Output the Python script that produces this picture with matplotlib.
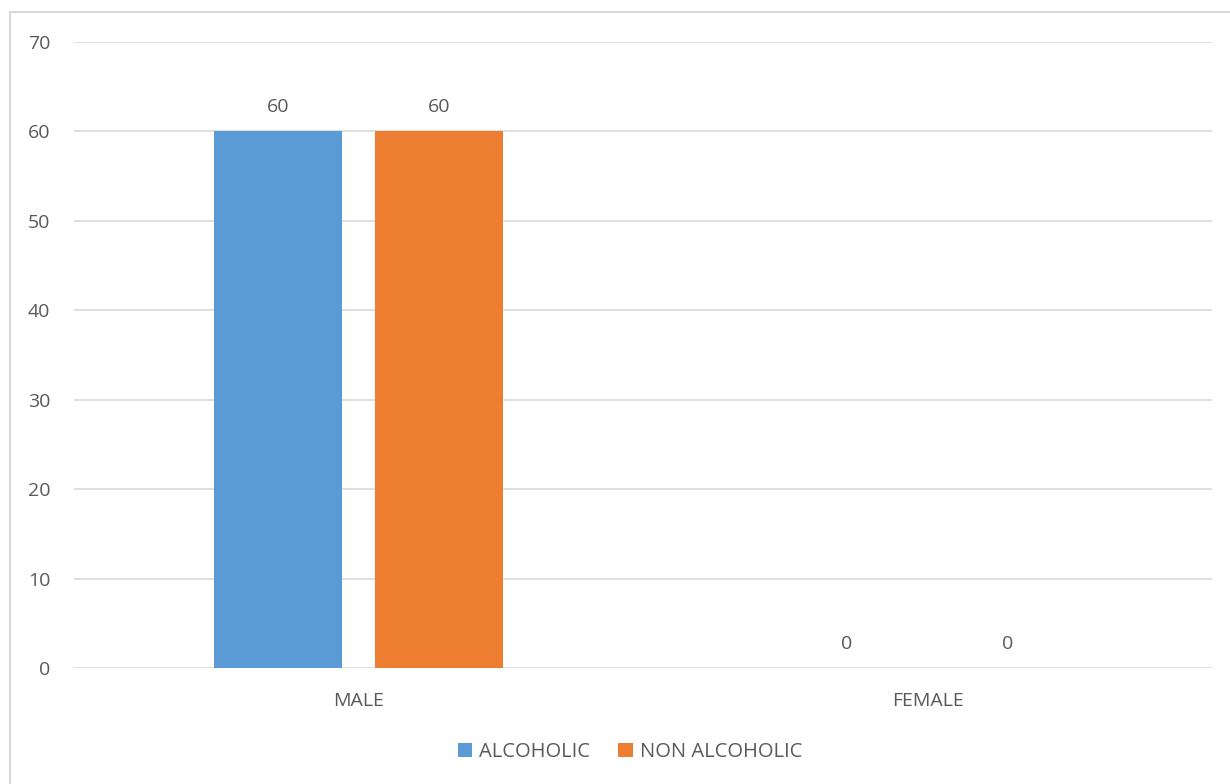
import matplotlib
matplotlib.use("Agg")
import matplotlib.pyplot as plt
import numpy as np
from matplotlib.patches import Rectangle

categories = ["MALE", "FEMALE"]
series_names = ["ALCOHOLIC", "NON ALCOHOLIC"]
alcoholic = [60, 0]
non_alcoholic = [60, 0]
yticks = [0, 10, 20, 30, 40, 50, 60, 70]

colors = ["#5B9BD5", "#ED7D31"]
text_color = "#595959"
plt.rcParams['font.family'] = ['Open Sans', 'DejaVu Sans']

fig = plt.figure(figsize=(12.3, 7.84), dpi=100)
fig.patches.append(Rectangle((10/1230, -0.1), 1.2, 1 - 12/784 + 0.1, transform=fig.transFigure,
                             fill=False, edgecolor="#D9D9D9", linewidth=1.5))
ax = fig.add_axes([74/1230, 1 - 668/784, (1212 - 74)/1230, (668 - 42)/784])

x = np.arange(len(categories))
w = 0.225
off = 0.1415
b1 = ax.bar(x - off, alcoholic, w, color=colors[0], label=series_names[0], zorder=3)
b2 = ax.bar(x + off, non_alcoholic, w, color=colors[1], label=series_names[1], zorder=3)
for bars in (b1, b2):
    ax.bar_label(bars, padding=11, fontsize=14, color=text_color)

ax.set_xlim(-0.5, 1.5)
ax.set_ylim(0, 70)
ax.set_yticks(yticks)
ax.set_xticks(x)
ax.set_xticklabels(categories)
ax.tick_params(axis='both', length=0, labelsize=14, labelcolor=text_color)
ax.tick_params(axis='y', pad=17)
ax.tick_params(axis='x', pad=17)
ax.grid(axis='y', color="#D9D9D9", linewidth=1.2, zorder=0)
for s in ax.spines.values():
    s.set_visible(False)

leg = fig.legend(loc='center', bbox_to_anchor=(0.5 + 15/1230, 1 - 752/784), ncol=2, frameon=False,
                 fontsize=14.5, handlelength=0.7, handleheight=0.7, handletextpad=0.35,
                 columnspacing=1.4)
for t in leg.get_texts():
    t.set_color(text_color)

fig.savefig("out.png", dpi=100)
